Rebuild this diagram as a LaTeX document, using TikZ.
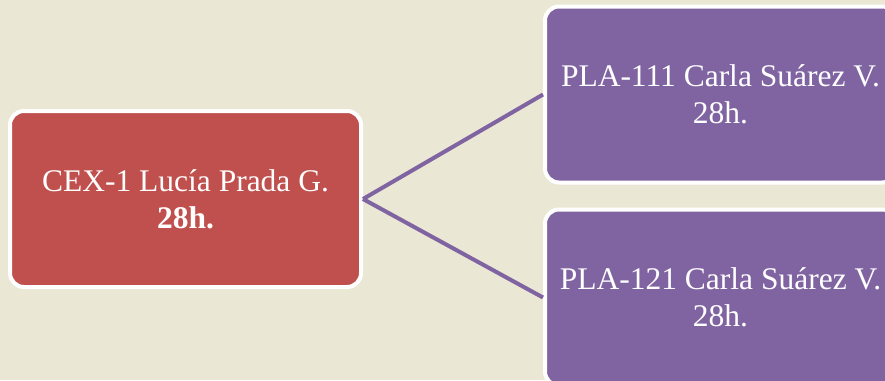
\documentclass[tikz,border=0pt]{standalone}
\usepackage{fontspec}
\setmainfont{Liberation Serif}
\usetikzlibrary{positioning}

\definecolor{bgtan}{RGB}{234,232,213}
\definecolor{boxred}{RGB}{192,80,77}
\definecolor{boxpurple}{RGB}{128,100,162}

\begin{document}
\begin{tikzpicture}[x=1pt,y=-1pt,
    unitbox/.style={draw=white,line width=4pt,rounded corners=14pt,outer sep=2pt,
      minimum width=351pt,minimum height=176pt,align=center,text=white,
      font=\fontsize{31.5}{37}\selectfont},
    link/.style={draw=boxpurple,line width=4pt}]

  \clip (0,0) rectangle (885,380);
  \fill [bgtan] (0,0) rectangle (885,380);

  \node [unitbox,fill=boxred] (cex) at (185.5,199) {CEX-1 Lucía Prada G.\\\textbf{28h.}};

  \node [unitbox,fill=boxpurple] (pla111) at (720.5,94.5) {PLA-111 Carla Suárez V.\\28h.};
  \node [unitbox,fill=boxpurple] (pla121) at (720.5,297.5) {PLA-121 Carla Suárez V.\\28h.};

  \path [link]
    (cex.east) edge (pla111.west)
    (cex.east) edge (pla121.west);

\end{tikzpicture}
\end{document}
